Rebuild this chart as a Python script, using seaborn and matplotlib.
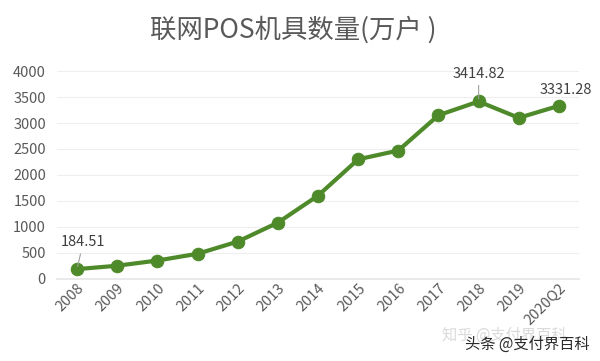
import matplotlib
matplotlib.use("Agg")
import matplotlib.pyplot as plt
import seaborn as sns
import pandas as pd

years = ["2008", "2009", "2010", "2011", "2012", "2013", "2014", "2015",
         "2016", "2017", "2018", "2019", "2020Q2"]
values = [184.51, 250, 350, 480, 715, 1080, 1600, 2300, 2470, 3150, 3414.82, 3100, 3331.28]
yticks = [0, 500, 1000, 1500, 2000, 2500, 3000, 3500, 4000]

sns.set_theme(style="white")
plt.rcParams['font.family'] = ['Noto Sans CJK SC', 'DejaVu Sans']

df = pd.DataFrame({"year": years, "value": values})
green = "#4E8A2A"

fig = plt.figure(figsize=(6, 3.61), dpi=100)
ax = fig.add_axes([0.095, 0.228, 0.870, 0.575])
sns.lineplot(data=df, x="year", y="value", ax=ax, color=green, linewidth=3,
             marker="o", markersize=9, markeredgecolor=green, sort=False)
ax.set_ylim(0, 4000)
ax.set_xlim(-0.5, len(years) - 0.5)
ax.set_yticks(yticks)
ax.set_yticklabels([str(t) for t in yticks], fontsize=10.5, color="#595959")
ax.set_xticks(range(len(years)))
ax.set_xticklabels(years, rotation=45, ha="right", rotation_mode="anchor",
                   fontsize=10.5, color="#595959")
ax.tick_params(axis="x", pad=2, length=0)
ax.tick_params(axis="y", length=0, pad=8)
ax.grid(axis="y", color="#EEEEEE", linewidth=0.8)
for s in ax.spines.values():
    s.set_visible(False)
ax.spines["bottom"].set_visible(True)
ax.spines["bottom"].set_color("#E6E6E6")
ax.set_xlabel("")
ax.set_ylabel("")

# annotations
for idx, dx, dy in [(0, 0.15, 380), (10, 0.0, 400), (12, 0.17, 170)]:
    v = values[idx]
    label = f"{v:.2f}"
    if idx == 12:
        ax.annotate(label, xy=(idx, v), xytext=(idx + dx, v + dy), ha="center",
                    va="bottom", fontsize=10.5, color="#404040")
    else:
        ax.annotate(label, xy=(idx, v), xytext=(idx + dx, v + dy), ha="center",
                    va="bottom", fontsize=10.5, color="#404040",
                    arrowprops=dict(arrowstyle="-", color="#A0A0A0", lw=0.8,
                                    shrinkA=1, shrinkB=2))

fig.text(0.488, 0.917, "联网POS机具数量(万户 )", ha="center", va="center",
         fontsize=19, color="#595959")
fig.text(0.737, 0.06, "知乎 @支付界百科", fontsize=11, color="#DADADA")
fig.text(0.775, 0.035, "头条 @支付界百科", fontsize=11, color="#2A2A2A")

fig.savefig("out.png", dpi=100, facecolor="white")
